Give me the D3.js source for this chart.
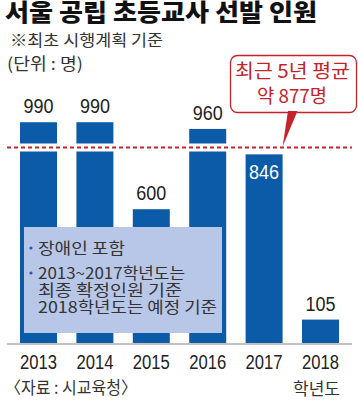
<!DOCTYPE html>
<html><head><meta charset="utf-8">
<script src="https://cdn.jsdelivr.net/npm/d3@7"></script>
<style>body{margin:0;background:#fff}svg{display:block}</style>
</head><body>
<script>
const years = ["2013","2014","2015","2016","2017","2018"];
const values = [990, 990, 600, 960, 846, 105];
const average = 877;
const title = "서울 공립 초등교사 선발 인원";
const subtitle = "※최초 시행계획 기준";
const unit = "(단위 : 명)";
const calloutLines = ["최근 5년 평균", "약 877명"];
const noteLines = [["•", "장애인 포함"], ["•", "2013~2017학년도는"], ["", "최종 확정인원 기준"], ["", "2018학년도는 예정 기준"]];
const source = "〈자료 : 시교육청〉";
const xUnit = "학년도";

const W = 358, H = 400;
const kr = "'Noto Sans CJK KR', 'Noto Sans', sans-serif";
const num = "'Liberation Sans', Arial, sans-serif";
const blue = "#0b5ba8", red = "#c4232b";

const svg = d3.select("body").append("svg").attr("width", W).attr("height", H);

function fit(sel, len) {
  return sel.attr("textLength", len).attr("lengthAdjust", "spacingAndGlyphs");
}

const x = d3.scaleBand().domain(years).range([20, 339]).paddingInner(0.344).paddingOuter(0);
const y = d3.scaleLinear().domain([0, 1000]).range([343, 120]);

// title
fit(svg.append("text").attr("x", 5).attr("y", 21).attr("font-family", kr).attr("font-weight", 900)
  .attr("font-size", 23.5).attr("fill", "#111").text(title), 312);
fit(svg.append("text").attr("x", 10).attr("y", 46).attr("font-family", kr)
  .attr("font-size", 16).attr("fill", "#333").text(subtitle), 153);
fit(svg.append("text").attr("x", 7).attr("y", 70).attr("font-family", kr)
  .attr("font-size", 16.5).attr("fill", "#333").text(unit), 76);

// bars
svg.append("g").selectAll("rect").data(years).join("rect")
  .attr("x", d => x(d)).attr("width", x.bandwidth())
  .attr("y", (d, i) => y(values[i])).attr("height", (d, i) => y(0) - y(values[i]))
  .attr("fill", blue);

// axis
const axis = svg.append("g").attr("transform", `translate(0,${y(0)})`)
  .call(d3.axisBottom(x).tickSize(0).tickPadding(12));
axis.select(".domain").remove();
svg.append("line").attr("x1", 7).attr("x2", 352).attr("y1", 344).attr("y2", 344)
  .attr("stroke", "#888").attr("stroke-width", 1.2);
fit(axis.selectAll("text").attr("font-family", num).attr("font-size", 19.5).attr("fill", "#222")
  .attr("y", 26).attr("dy", 0), 37);

// value labels
fit(svg.append("g").selectAll("text").data(years).join("text")
  .attr("x", d => x(d) + x.bandwidth() / 2)
  .attr("y", (d, i) => i === 4 ? y(values[i]) + 25 : y(values[i]) - 9)
  .attr("text-anchor", "middle").attr("font-family", num).attr("font-size", 20.5)
  .attr("fill", (d, i) => i === 4 ? "#fff" : "#222")
  .text((d, i) => values[i]), 30);

// average line
svg.append("line").attr("x1", 7).attr("x2", 352).attr("y1", y(average)).attr("y2", y(average))
  .attr("stroke", "#fff").attr("stroke-width", 8);
svg.append("line").attr("x1", 7).attr("x2", 352).attr("y1", y(average)).attr("y2", y(average))
  .attr("stroke", red).attr("stroke-width", 2).attr("stroke-dasharray", "4,3");

// note box
svg.append("rect").attr("x", 24).attr("y", 227).attr("width", 198).attr("height", 106)
  .attr("fill", "#b8c7e8");
const noteY = [254, 279, 296, 313];
const noteW = [87, 147, 144, 179];
noteLines.forEach((l, i) => {
  if (l[0]) svg.append("circle").attr("cx", 31).attr("cy", noteY[i] - 6).attr("r", 1.6).attr("fill", "#2a5aa8");
  fit(svg.append("text").attr("x", 38).attr("y", noteY[i]).attr("font-family", kr)
    .attr("font-size", 15.5).attr("fill", "#333").text(l[1]), noteW[i]);
});

// callout
svg.append("rect").attr("x", 230.5).attr("y", 55.5).attr("width", 126).attr("height", 57).attr("rx", 7)
  .attr("fill", "#fff").attr("stroke", red).attr("stroke-width", 1.3);
svg.append("path").attr("d", `M288.5,112.5 L297,112.5`).attr("stroke", "#fff").attr("stroke-width", 1.6);
svg.append("path").attr("d", `M288,111 L297.5,111 L${x("2017") + x.bandwidth()},${y(average) - 1} Z`)
  .attr("fill", red);
fit(svg.append("text").attr("x", 235).attr("y", 78).attr("font-family", kr)
  .attr("font-size", 19).attr("fill", red).text(calloutLines[0]), 115);
fit(svg.append("text").attr("x", 257).attr("y", 103).attr("font-family", kr)
  .attr("font-size", 19).attr("fill", red).text(calloutLines[1]), 70);

// footer
fit(svg.append("text").attr("x", 5).attr("y", 394).attr("font-family", kr)
  .attr("font-size", 17).attr("fill", "#333").text(source), 132);
fit(svg.append("text").attr("x", 293).attr("y", 395).attr("font-family", kr)
  .attr("font-size", 16.5).attr("fill", "#333").text(xUnit), 47);
</script>
</body></html>
